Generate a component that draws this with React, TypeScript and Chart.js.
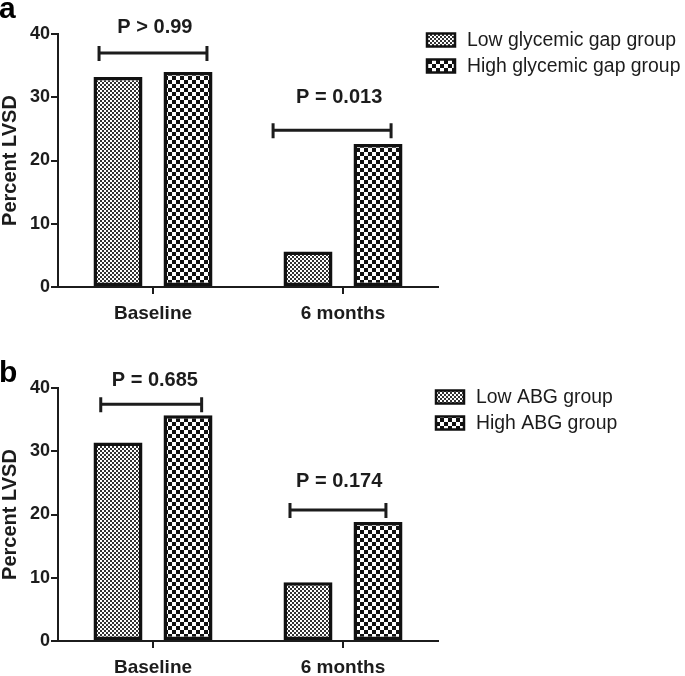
import React, { useEffect, useRef } from "react";
import { Chart, registerables } from "chart.js";

Chart.register(...registerables);

// ---------- data ----------
const categories = ["Baseline", "6 months"];
const yTicks = [0, 10, 20, 30, 40];

// panel a
const lowGlycemicGap = [33.2, 5.6];
const highGlycemicGap = [34.0, 22.6];
const legendA = ["Low glycemic gap group", "High glycemic gap group"];
const pLabelsA = ["P > 0.99", "P = 0.013"];
const pLabelXA = [0.01, 0.98];
const pLabelYA = [41.1, 30.0];
const bracketStartA = [-0.284, 0.632];
const bracketEndA = [0.284, 1.253];
const bracketYA = [37.0, 24.8];

// panel b
const lowABG = [31.4, 9.3];
const highABG = [35.7, 18.8];
const legendB = ["Low ABG group", "High ABG group"];
const pLabelsB = ["P = 0.685", "P = 0.174"];
const pLabelXB = [0.01, 0.98];
const pLabelYB = [41.2, 25.2];
const bracketStartB = [-0.275, 0.721];
const bracketEndB = [0.256, 1.226];
const bracketYB = [37.45, 20.7];

const FONT = "'Liberation Sans', Arial, sans-serif";
const INK = "#1c1c1c";

function makeChecker(cell: number, dark: string, light: string) {
  const c = document.createElement("canvas");
  c.width = cell * 2;
  c.height = cell * 2;
  const g = c.getContext("2d")!;
  g.fillStyle = light;
  g.fillRect(0, 0, cell * 2, cell * 2);
  g.fillStyle = dark;
  g.fillRect(0, 0, cell, cell);
  g.fillRect(cell, cell, cell, cell);
  return g.createPattern(c, "repeat")!;
}

type PanelCfg = {
  letter: string;
  letterY: number;
  low: number[];
  high: number[];
  legend: string[];
  legendX: number;
  legendY: number;
  pLabels: string[];
  pLabelX: number[];
  pLabelY: number[];
  bStart: number[];
  bEnd: number[];
  bY: number[];
  padTop: number;
  xHeight: number;
  height: number;
};

function Panel({ cfg, top }: { cfg: PanelCfg; top: number }) {
  const ref = useRef<HTMLCanvasElement | null>(null);
  useEffect(() => {
    const canvas = ref.current!;
    const lowPat = makeChecker(2, "#333333", "#ffffff");
    const highPat = makeChecker(4, "#111111", "#ffffff");

    const overlay = {
      id: "overlay",
      afterDraw(chart: any) {
        const ctx = chart.ctx;
        const xs = chart.scales.x;
        const ys = chart.scales.y;
        ctx.save();
        // panel letter
        ctx.fillStyle = "#000";
        ctx.font = `bold 30px ${FONT}`;
        ctx.textAlign = "left";
        ctx.textBaseline = "alphabetic";
        ctx.fillText(cfg.letter, -1, cfg.letterY);
        // brackets
        ctx.strokeStyle = INK;
        ctx.lineWidth = 3;
        for (let i = 0; i < cfg.bY.length; i++) {
          const x0 = xs.getPixelForValue(cfg.bStart[i]);
          const x1 = xs.getPixelForValue(cfg.bEnd[i]);
          const y = ys.getPixelForValue(cfg.bY[i]);
          ctx.beginPath();
          ctx.moveTo(x0, y);
          ctx.lineTo(x1, y);
          ctx.moveTo(x0, y - 7);
          ctx.lineTo(x0, y + 8);
          ctx.moveTo(x1, y - 7);
          ctx.lineTo(x1, y + 8);
          ctx.stroke();
          ctx.fillStyle = INK;
          ctx.font = `bold 20px ${FONT}`;
          ctx.textAlign = "center";
          ctx.textBaseline = "middle";
          ctx.fillText(
            cfg.pLabels[i],
            xs.getPixelForValue(cfg.pLabelX[i]),
            ys.getPixelForValue(cfg.pLabelY[i])
          );
        }
        // legend
        chart.data.datasets.forEach((ds: any, i: number) => {
          const by = cfg.legendY + i * 26;
          ctx.fillStyle = ds.backgroundColor;
          ctx.fillRect(cfg.legendX, by - 6.5, 28, 13);
          ctx.lineWidth = 2.5;
          ctx.strokeStyle = "#111";
          ctx.strokeRect(cfg.legendX, by - 6.5, 28, 13);
          ctx.fillStyle = INK;
          ctx.font = `19.4px ${FONT}`;
          ctx.textAlign = "left";
          ctx.textBaseline = "middle";
          ctx.fillText(ds.label, cfg.legendX + 40, by + 1);
        });
        ctx.restore();
      },
    };

    const chart = new Chart(canvas, {
      type: "bar",
      data: {
        labels: categories,
        datasets: [
          {
            label: cfg.legend[0],
            data: cfg.low,
            backgroundColor: lowPat as any,
            borderColor: "#111",
            borderWidth: 3.5,
            borderSkipped: false,
            categoryPercentage: 0.737,
            barPercentage: 0.7,
          },
          {
            label: cfg.legend[1],
            data: cfg.high,
            backgroundColor: highPat as any,
            borderColor: "#111",
            borderWidth: 3.5,
            borderSkipped: false,
            categoryPercentage: 0.737,
            barPercentage: 0.7,
          },
        ],
      },
      options: {
        responsive: false,
        animation: false,
        devicePixelRatio: 1,
        layout: { padding: { top: cfg.padTop, right: 247, left: 0, bottom: 0 } },
        plugins: { legend: { display: false }, tooltip: { enabled: false } },
        scales: {
          x: {
            grid: {
              display: true,
              drawOnChartArea: false,
              drawTicks: true,
              tickLength: 7,
              offset: false,
              color: INK,
              lineWidth: 2,
            },
            border: { display: true, color: INK, width: 2 },
            ticks: {
              color: INK,
              padding: 8,
              font: { family: FONT, size: 19, weight: "bold" },
            },
            afterFit: (s: any) => {
              s.height = cfg.xHeight;
            },
          },
          y: {
            min: 0,
            max: 40,
            afterBuildTicks: (s: any) => {
              s.ticks = yTicks.map((v) => ({ value: v }));
            },
            grid: {
              display: true,
              drawOnChartArea: false,
              drawTicks: true,
              tickLength: 7,
              color: INK,
              lineWidth: 2,
            },
            border: { display: true, color: INK, width: 2 },
            ticks: {
              color: INK,
              padding: 1,
              font: { family: FONT, size: 18, weight: "bold" },
            },
            title: {
              display: true,
              text: "Percent LVSD",
              color: INK,
              padding: 0,
              font: { family: FONT, size: 20, weight: "bold", lineHeight: 1 },
            },
            afterFit: (s: any) => {
              s.width = 58;
            },
          },
        },
      },
      plugins: [overlay],
    });
    return () => chart.destroy();
  }, []);
  return (
    <canvas
      ref={ref}
      width={685}
      height={cfg.height}
      style={{ position: "absolute", left: 0, top, width: 685, height: cfg.height }}
    />
  );
}

const panelA: PanelCfg = {
  letter: "a",
  letterY: 18,
  low: lowGlycemicGap,
  high: highGlycemicGap,
  legend: legendA,
  legendX: 427,
  legendY: 40,
  pLabels: pLabelsA,
  pLabelX: pLabelXA,
  pLabelY: pLabelYA,
  bStart: bracketStartA,
  bEnd: bracketEndA,
  bY: bracketYA,
  padTop: 34,
  xHeight: 43,
  height: 330,
};

const panelB: PanelCfg = {
  letter: "b",
  letterY: 52,
  low: lowABG,
  high: highABG,
  legend: legendB,
  legendX: 436,
  legendY: 67,
  pLabels: pLabelsB,
  pLabelX: pLabelXB,
  pLabelY: pLabelYB,
  bStart: bracketStartB,
  bEnd: bracketEndB,
  bY: bracketYB,
  padTop: 58,
  xHeight: 35,
  height: 346,
};

export default function App() {
  return (
    <div
      style={{
        position: "absolute",
        left: 0,
        top: 0,
        width: 685,
        height: 676,
        background: "#fff",
        overflow: "hidden",
      }}
    >
      <Panel cfg={panelA} top={0} />
      <Panel cfg={panelB} top={330} />
    </div>
  );
}
